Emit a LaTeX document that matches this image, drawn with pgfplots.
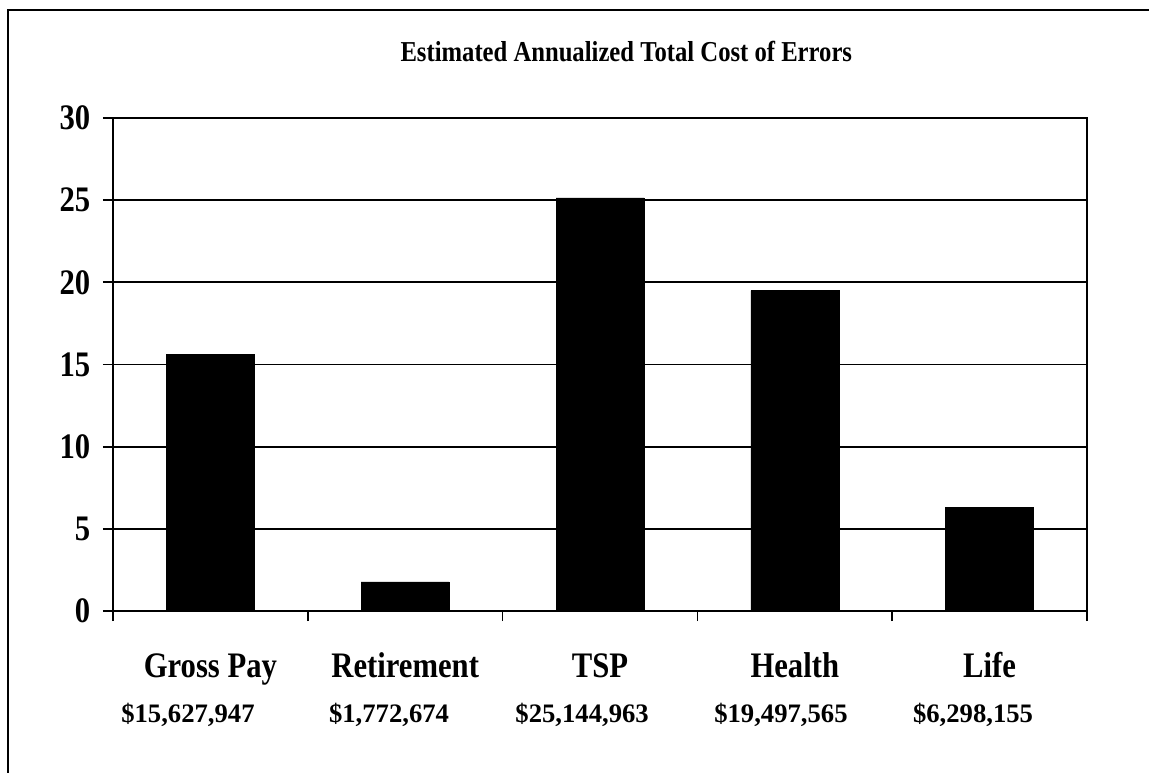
\documentclass[border=0pt]{standalone}
\usepackage{pgfplots}
\pgfplotsset{compat=1.18}
\usepackage{fontspec}
\setmainfont{Liberation Serif}
\newcommand{\vs}[1]{\scalebox{1}[1.17]{#1}}
\begin{document}
\begin{tikzpicture}
\useasboundingbox (0pt,0pt) rectangle (861.75pt,579pt);
\draw[line width=1.5pt] (6pt,-30pt) -- (6pt,571.5pt) -- (900pt,571.5pt);
\begin{axis}[
  at={(84.75pt,120.75pt)}, anchor=south west,
  scale only axis, width=730.5pt, height=369.75pt,
  xmin=-0.5, xmax=4.5, ymin=0, ymax=30,
  ybar, bar width=66pt,
  axis line style={line width=1.25pt},
  ytick={0,5,...,30}, ymajorgrids, grid style={black, line width=1.25pt},
  ytick pos=left, xtick pos=bottom,
  tick align=outside, major tick length=7.5pt, minor tick length=7.5pt,
  tick style={black, line width=1.25pt},
  xtick={0,1,2,3,4},
  xtick style={draw=none},
  minor xtick={-0.5,0.5,1.5,2.5,3.5,4.5},
  minor x tick style={draw=black, line width=1.25pt},
  xticklabels={\vs{Gross Pay},\vs{Retirement},\vs{TSP},\vs{Health},\vs{Life}},
  xticklabel style={font=\bfseries\fontsize{23pt}{27pt}\selectfont, anchor=base, yshift=-42pt},
  extra x ticks={-0.115,0.917,1.908,2.929,3.915},
  extra x tick labels={{\$15,627,947},{\$1,772,674},{\$25,144,963},{\$19,497,565},{\$6,298,155}},
  extra x tick style={xtick style={draw=none}, xticklabel style={font=\bfseries\fontsize{20pt}{24pt}\selectfont, yshift=-34.3pt}},
  yticklabel={\vs{\pgfmathprintnumber[assume math mode=true]{\tick}}},
  yticklabel style={font=\bfseries\fontsize{23pt}{27pt}\selectfont, xshift=-6pt},
  every axis title shift=0pt,
  title={\vs{Estimated Annualized Total Cost of Errors}},
  title style={font=\bfseries\fontsize{18.5pt}{22pt}\selectfont, at={(0.527,1.1136)}, anchor=base},
]
\addplot[fill=black, draw=black] coordinates {(0,15.627947) (1,1.772674) (2,25.144963) (3,19.497565) (4,6.298155)};
\end{axis}
\end{tikzpicture}
\end{document}
